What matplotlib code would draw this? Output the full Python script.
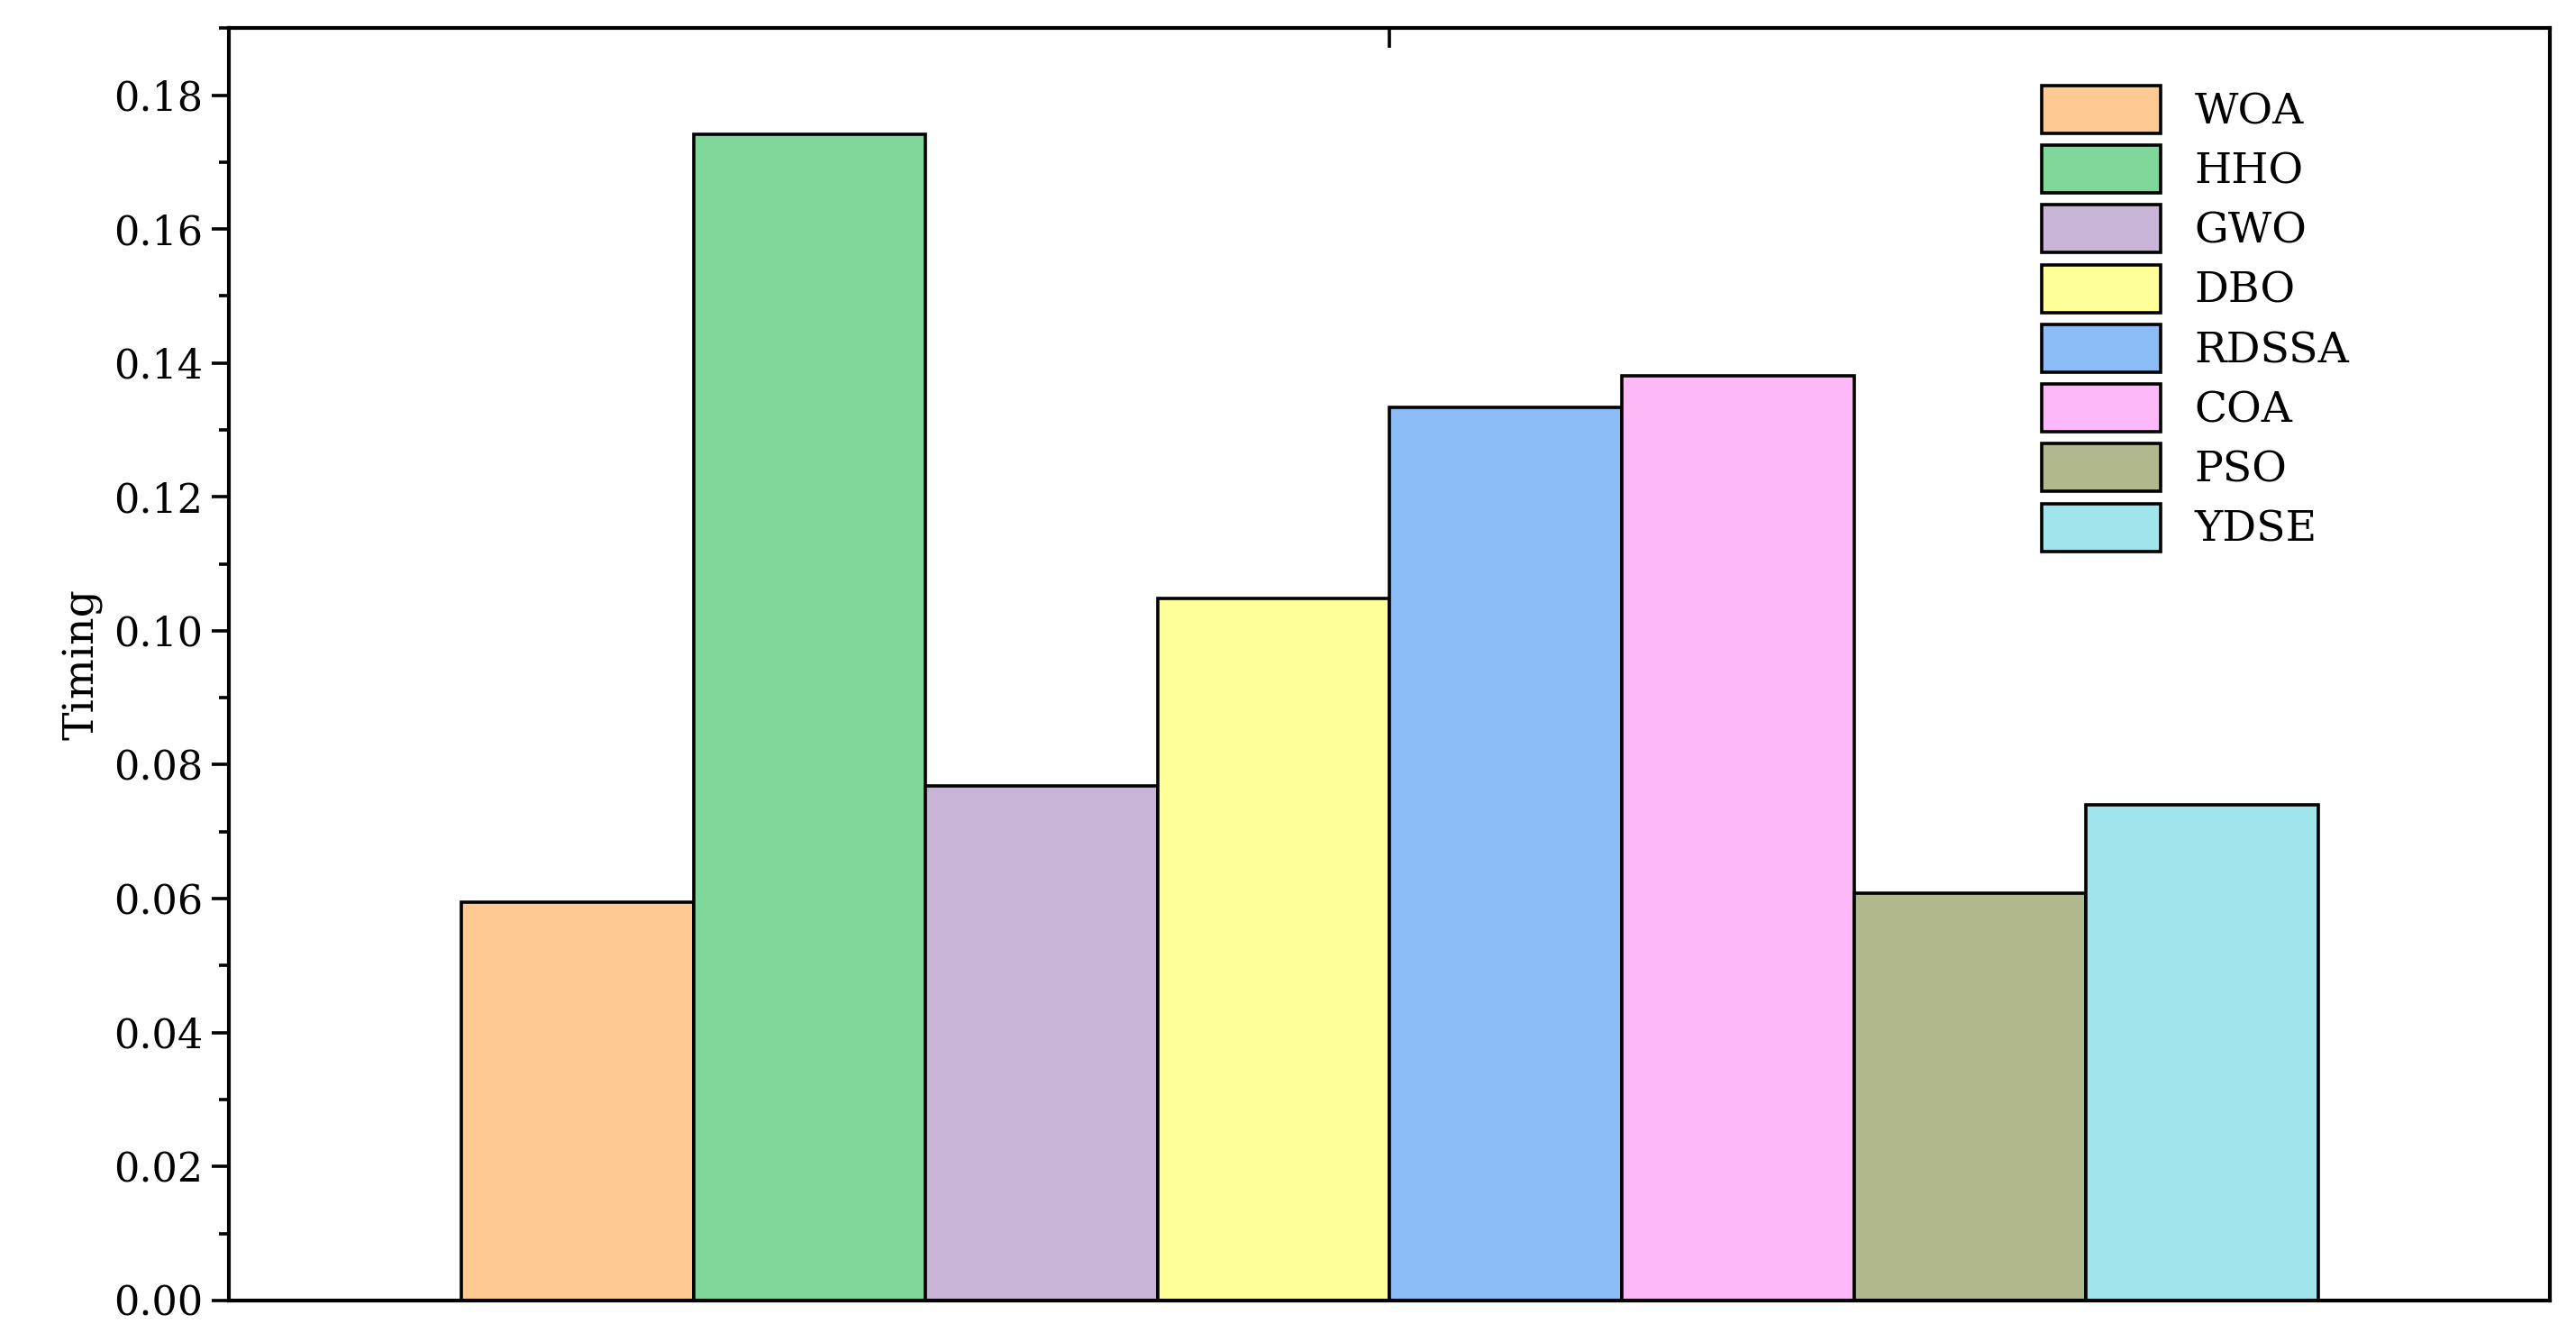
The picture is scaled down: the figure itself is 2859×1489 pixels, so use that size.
import matplotlib

matplotlib.use("Agg")
import matplotlib.pyplot as plt
from matplotlib.ticker import MultipleLocator, FormatStrFormatter

algorithms = ["WOA", "HHO", "GWO", "DBO", "RDSSA", "COA", "PSO", "YDSE"]
timing = [0.0595, 0.1742, 0.0768, 0.1048, 0.1334, 0.1381, 0.0608, 0.0740]
colors = ["#FFC993", "#7FD89A", "#C8B4D6", "#FFFF99", "#8BBCF5", "#FDB8F8", "#B1B88E", "#A0E4EC"]

plt.rcParams["font.family"] = ["DejaVu Serif"]

fig = plt.figure(figsize=(14.295, 7.445), dpi=200)
ax = fig.add_axes([0.089, 0.031, 0.901, 0.948])

for i, (name, val, c) in enumerate(zip(algorithms, timing, colors)):
    ax.bar(1.5 + i, val, width=1.0, color=c, edgecolor="black", linewidth=1.3, label=name)

ax.set_xlim(0, 10)
ax.set_ylim(0, 0.19)
ax.yaxis.set_major_locator(MultipleLocator(0.02))
ax.yaxis.set_minor_locator(MultipleLocator(0.01))
ax.yaxis.set_major_formatter(FormatStrFormatter("%.2f"))
ax.set_xticks([])
ax.tick_params(axis="y", which="major", length=7, width=1.3, labelsize=16)
ax.tick_params(axis="y", which="minor", length=4, width=1.3)
ax.set_ylabel("Timing", fontsize=17)
for s in ax.spines.values():
    s.set_linewidth(1.5)

# small tick on top axis at centre
sec = ax.secondary_xaxis("top")
sec.set_xticks([5])
sec.set_xticklabels([])
sec.tick_params(direction="in", length=8, width=1.3)

ax.legend(loc="upper right", bbox_to_anchor=(0.93, 0.985), frameon=False, fontsize=17,
          handlelength=2.8, handleheight=1.35, labelspacing=0.28, handletextpad=0.8)

fig.savefig("out.png")
